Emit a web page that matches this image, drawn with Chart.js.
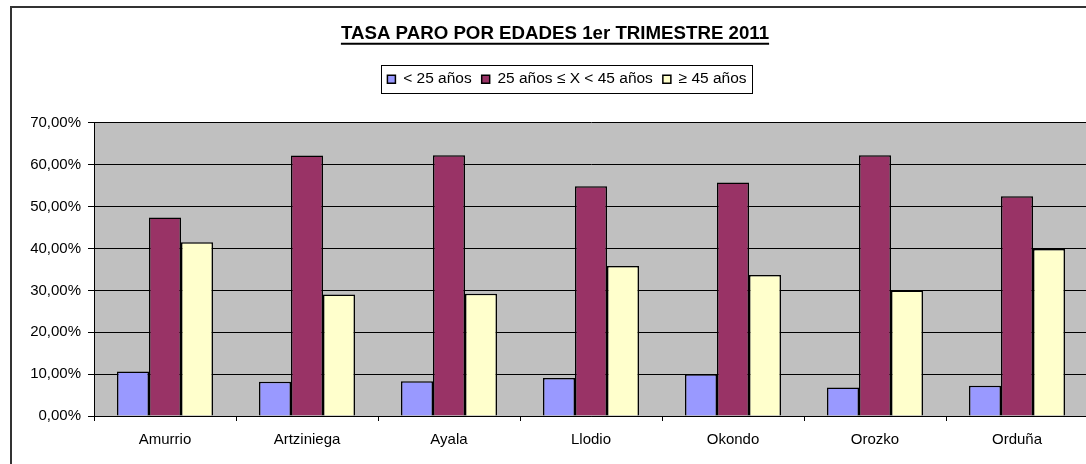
<!DOCTYPE html>
<html lang="es">
<head>
    <meta charset="UTF-8">
    <title>Tasa paro por edades</title>
    <script src="https://cdn.jsdelivr.net/npm/chart.js"></script>
    <style>
        html, body { margin: 0; padding: 0; background: #fff; overflow: hidden; }
        .frame {
            position: absolute; left: 10px; top: 6px;
            width: 1100px; height: 480px;
            border: 2px solid #333;
        }
        .chart-wrap { position: absolute; left: 0; top: 0; width: 1090px; height: 464px; }
    </style>
</head>
<body>
    <div class="frame"></div>
    <div class="chart-wrap"><canvas id="paro-chart"></canvas></div>

    <script>
        // Data (percent)
        const municipios = ['Amurrio', 'Artziniega', 'Ayala', 'Llodio', 'Okondo', 'Orozko', 'Orduña'];
        const menores25 = [10.6, 8.2, 8.3, 9.1, 10.0, 6.8, 7.2];
        const entre25y45 = [47.4, 62.2, 62.3, 54.9, 55.8, 62.3, 52.5];
        const mayores45 = [41.5, 29.0, 29.2, 35.8, 33.7, 30.0, 39.9];
        const seriesLabels = ['< 25 años', '25 años ≤ X < 45 años', '≥ 45 años'];
        const yMax = 70;
        const yStep = 10;

        const FONT = "'Liberation Sans', Arial, sans-serif";
        const LEGEND_SHIFT = 12;
        Chart.defaults.color = '#000';
        Chart.defaults.font.family = FONT;

        // grey plot area
        const plotBackground = {
            id: 'plotBackground',
            beforeDraw(chart) {
                const { ctx, chartArea: a } = chart;
                ctx.save();
                ctx.fillStyle = '#C0C0C0';
                ctx.fillRect(a.left, a.top, a.right - a.left, a.bottom - a.top);
                ctx.restore();
            }
        };

        // extra room under the legend, and nudge it a bit right
        const legendTweak = {
            id: 'legendTweak',
            afterInit(chart) {
                const lg = chart.legend;
                const fit = lg.fit;
                lg.fit = function () {
                    fit.call(this);
                    this.height += 26;
                };
                const draw = lg.draw;
                lg.draw = function () {
                    const ctx = this.ctx;
                    ctx.save();
                    ctx.translate(LEGEND_SHIFT, 0);
                    draw.apply(this, arguments);
                    ctx.restore();
                };
            }
        };

        // underline title + box round legend
        const decorations = {
            id: 'decorations',
            afterDraw(chart) {
                const ctx = chart.ctx;
                ctx.save();
                const t = chart.titleBlock;
                if (t) {
                    const f = t.options.font;
                    ctx.font = 'bold ' + f.size + 'px ' + FONT;
                    const w = ctx.measureText(t.options.text).width;
                    const cx = (t.left + t.right) / 2;
                    const y = t.top + t.options.padding.top + f.size * 0.6 + 9.5;
                    ctx.strokeStyle = '#000';
                    ctx.lineWidth = 2;
                    ctx.beginPath();
                    ctx.moveTo(cx - w / 2, y);
                    ctx.lineTo(cx + w / 2, y);
                    ctx.stroke();
                }
                const boxes = chart.legend.legendHitBoxes;
                if (boxes && boxes.length) {
                    const first = boxes[0], last = boxes[boxes.length - 1];
                    const cy = first.top + first.height / 2;
                    ctx.strokeStyle = '#000';
                    ctx.lineWidth = 1;
                    ctx.strokeRect(Math.round(first.left + LEGEND_SHIFT - 6) + 0.5, Math.round(cy - 14) + 0.5,
                        Math.round(last.left + last.width - first.left + 12), 28);
                }
                ctx.restore();
            }
        };

        new Chart(document.getElementById('paro-chart'), {
            type: 'bar',
            data: {
                labels: municipios,
                datasets: [
                    { label: seriesLabels[0], data: menores25, backgroundColor: '#9999FF' },
                    { label: seriesLabels[1], data: entre25y45, backgroundColor: '#993366' },
                    { label: seriesLabels[2], data: mayores45, backgroundColor: '#FFFFCC' }
                ].map(d => Object.assign(d, {
                    borderColor: '#000', borderWidth: 1.5,
                    categoryPercentage: 0.676, barPercentage: 1
                }))
            },
            options: {
                responsive: true,
                maintainAspectRatio: false,
                animation: false,
                layout: { padding: { left: 22, right: 2, top: 0, bottom: 0 } },
                plugins: {
                    title: {
                        display: true,
                        text: 'TASA PARO POR EDADES 1er TRIMESTRE 2011',
                        font: { size: 18.7, weight: 'bold', family: FONT },
                        color: '#000',
                        padding: { top: 23, bottom: 16 }
                    },
                    legend: {
                        position: 'top',
                        labels: {
                            font: { size: 15.5, family: FONT },
                            color: '#000',
                            boxWidth: 8,
                            boxHeight: 8,
                            padding: 10
                        }
                    },
                    tooltip: { enabled: false }
                },
                scales: {
                    x: {
                        grid: { offset: true, drawOnChartArea: false, color: '#000', tickLength: 5 },
                        border: { color: '#000' },
                        ticks: { font: { size: 15 }, color: '#000', padding: 10, maxRotation: 0 },
                        afterFit(scale) { scale.height = 48; }
                    },
                    y: {
                        min: 0,
                        max: yMax,
                        grid: { color: '#000', tickColor: '#000', tickLength: 6 },
                        border: { color: '#000' },
                        ticks: {
                            stepSize: yStep,
                            font: { size: 15 },
                            color: '#000',
                            padding: 7,
                            callback: v => v.toFixed(2).replace('.', ',') + '%'
                        },
                        afterFit(scale) { scale.width = 72; }
                    }
                }
            },
            plugins: [plotBackground, legendTweak, decorations]
        });
    </script>
</body>
</html>
